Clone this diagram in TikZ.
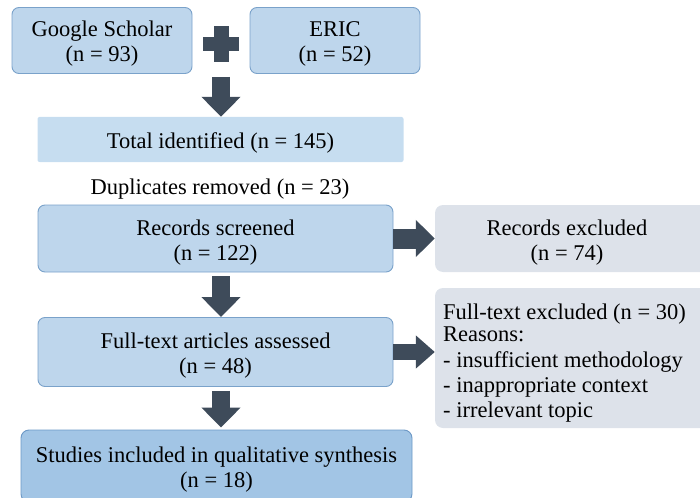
\documentclass[tikz,border=0pt]{standalone}
\usepackage{fontspec}
\setmainfont{Liberation Serif}
\usetikzlibrary{arrows.meta}
\definecolor{bluefill}{RGB}{190,214,236}
\definecolor{blueline}{RGB}{122,162,202}
\definecolor{totalfill}{RGB}{198,221,240}
\definecolor{grayfill}{RGB}{221,226,234}
\definecolor{darkfill}{RGB}{162,197,229}
\definecolor{darkline}{RGB}{108,152,198}
\definecolor{arrowcol}{RGB}{62,75,90}
\newcommand{\lowtxt}[1]{\raisebox{-4pt}[\height][\depth]{\begin{tabular}{@{}c@{}}#1\end{tabular}}}
\tikzset{
  every node/.style={font=\fontsize{22.5}{25}\selectfont, text=black},
  bluebox/.style={draw=blueline, line width=0.9pt, fill=bluefill, rounded corners=7pt, inner sep=0pt},
  totalbox/.style={fill=totalfill, rounded corners=2pt, inner sep=0pt},
  graybox/.style={fill=grayfill, rounded corners=8pt, inner sep=0pt},
  finalbox/.style={draw=darkline, line width=0.9pt, fill=darkfill, rounded corners=8pt, inner sep=0pt},
  downarrow/.style={line width=18pt, draw=arrowcol, -{Triangle[width=38pt,length=20pt]}},
  rightarrow/.style={line width=20pt, draw=arrowcol, -{Triangle[width=36pt,length=19pt]}},
}
\begin{document}
\begin{tikzpicture}[x=1pt,y=1pt]
\useasboundingbox (0,0) rectangle (700,-497);
% top sources
\node[bluebox, minimum width=180pt, minimum height=66pt] (gs) at (102,-40.5) {\lowtxt{Google Scholar\\(n = 93)}};
\node[bluebox, minimum width=170pt, minimum height=66pt] (eric) at (335,-40.5) {\lowtxt{ERIC\\(n = 52)}};
% plus sign
\coordinate (plus) at (221,-44);
\fill[arrowcol] (214,-26) rectangle (229,-62);
\fill[arrowcol] (203,-37) rectangle (239,-51);
% total
\node[totalbox, minimum width=366pt, minimum height=45pt] (total) at (220.5,-139.5) {\lowtxt{Total identified (n = 145)}};
\coordinate (a1s) at (221,-77);
\draw[downarrow] (a1s) -- (a1s |- total.north);
% duplicates
\node (dup) at (220,-185) {\lowtxt{Duplicates removed (n = 23)}};
% screened
\node[bluebox, minimum width=355pt, minimum height=67pt] (scr) at (215.5,-238.5) {\lowtxt{Records screened\\(n = 122)}};
\node[graybox, minimum width=275pt, minimum height=67pt] (exc) at (572.5,-238.5) {};
\node (exct) at (567,-238.5) {\lowtxt{Records excluded\\(n = 74)}};
\draw[rightarrow] (scr.east) -- (exc.west);
% full text
\node[bluebox, minimum width=355pt, minimum height=69pt] (ft) at (215.5,-352) {\lowtxt{Full-text articles assessed\\(n = 48)}};
\node[graybox, minimum width=285pt, minimum height=140pt] (ftx) at (577.5,-358) {};
\node[anchor=north west, align=left, inner sep=0pt] (ftxt) at (443,-304) {Full-text excluded (n = 30)\\[-3pt]Reasons:\\[1pt]- insufficient methodology\\- inappropriate context\\- irrelevant topic};
\draw[line width=16pt, draw=arrowcol, -{Triangle[width=32pt,length=19pt]}] (ft.east |- 0,-352) -- (ftx.west |- 0,-352);
\draw[downarrow] ([yshift=-4pt]scr.south -| 221,0) -- (ft.north -| 221,0);
% final
\node[finalbox, minimum width=391pt, minimum height=72pt] (fin) at (216.5,-466) {\lowtxt{Studies included in qualitative synthesis\\(n = 18)}};
\draw[downarrow] ([yshift=-4pt]ft.south -| 221,0) -- ([yshift=2pt]fin.north -| 221,0);
\end{tikzpicture}
\end{document}
